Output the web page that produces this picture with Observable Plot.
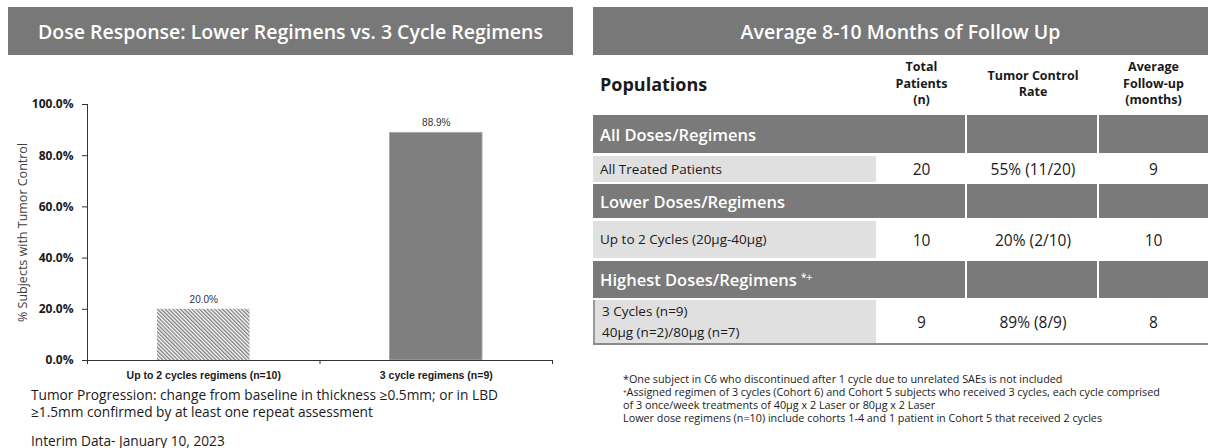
<!DOCTYPE html>
<html><head><meta charset="utf-8">
<script src="https://cdn.jsdelivr.net/npm/d3@7"></script>
<script src="https://cdn.jsdelivr.net/npm/@observablehq/plot@0.6"></script>
<style>
body{margin:0;background:#fff;width:1208px;height:448px;overflow:hidden;position:relative;font-family:"Open Sans",Lato,sans-serif;color:#1a1a1a;}
.abs{position:absolute;box-sizing:border-box;}
.titlebar{background:#787878;color:#fff;font-size:19.5px;font-weight:600;display:flex;align-items:center;justify-content:center;white-space:nowrap;}
.cell{display:flex;align-items:center;}
.sect{background:#7a7a7a;}
.light{background:#e0e0e0;}
.center{justify-content:center;text-align:center;}
.sup{font-size:10px;position:relative;top:-5px;line-height:0;}
</style></head><body>
<script>
// ---- Chart data ----
const categories = ["Up to 2 cycles regimens (n=10)", "3 cycle regimens (n=9)"];
const tumorControl = [0.20, 0.889];
const yTicks = [0, 0.2, 0.4, 0.6, 0.8, 1.0];
const yLabel = "% Subjects with Tumor Control";

// ---- Table data ----
const chartTitle = "Dose Response: Lower Regimens vs. 3 Cycle Regimens";
const tableTitle = "Average 8-10 Months of Follow Up";
const columnHeaders = ["Populations", "Total<br>Patients<br>(n)", "Tumor Control<br>Rate", "Average<br>Follow-up<br>(months)"];
const sections = ["All Doses/Regimens", "Lower Doses/Regimens", "Highest Doses/Regimens <span class='sup'>*+</span>"];
const populations = ["All Treated Patients", "Up to 2 Cycles (20µg-40µg)", "3 Cycles (n=9)<br>40µg (n=2)/80µg (n=7)"];
const totalPatients = [20, 10, 9];
const controlRate = ["55% (11/20)", "20% (2/10)", "89% (8/9)"];
const followUp = [9, 10, 8];
const captionLines = ["Tumor Progression: change from baseline in thickness ≥0.5mm; or in LBD", "≥1.5mm confirmed by at least one repeat assessment"];
const interim = "Interim Data- January 10, 2023";
const footnotes = [
  "*One subject in C6 who discontinued after 1 cycle due to unrelated SAEs is not included",
  "⁺Assigned regimen of 3 cycles (Cohort 6) and Cohort 5 subjects who received 3 cycles, each cycle comprised",
  "of 3 once/week treatments of 40µg x 2 Laser or 80µg x 2 Laser",
  "Lower dose regimens (n=10) include cohorts 1-4 and 1 patient in Cohort 5 that received 2 cycles"
];

function div(cls, x, y, w, h, html, style = "") {
  const d = document.createElement("div");
  d.className = "abs " + cls;
  d.style.cssText = `left:${x}px;top:${y}px;width:${w}px;height:${h}px;` + style;
  d.innerHTML = html;
  document.body.appendChild(d);
  return d;
}

// Title bars
div("titlebar", 8, 7, 565, 48, chartTitle);
div("titlebar", 593, 7, 615, 48, tableTitle);

// Chart
const data = categories.map((c, i) => ({i, cat: c, v: tumorControl[i]}));
const chart = Plot.plot({
  width: 580, height: 305,
  marginLeft: 87, marginRight: 28, marginTop: 24, marginBottom: 25,
  style: {fontFamily: "'Open Sans', sans-serif", background: "transparent", color: "#1a1a1a"},
  x: {domain: [0, categories.length]},
  y: {domain: [0, 1]},
  marks: [
    () => {
      const defs = d3.create("svg:defs");
      const p = defs.append("pattern").attr("id", "hatch").attr("patternUnits", "userSpaceOnUse")
        .attr("width", 2.7).attr("height", 10).attr("patternTransform", "rotate(-45)");
      p.append("rect").attr("width", 2.7).attr("height", 10).attr("fill", "#fff");
      p.append("line").attr("x1", 0.7).attr("x2", 0.7).attr("y1", 0).attr("y2", 10)
        .attr("stroke", "#737373").attr("stroke-width", 1.25);
      return defs.node();
    },
    Plot.rectY(data, {x1: d => d.i, x2: d => d.i + 1, y: "v", insetLeft: 70, insetRight: 70,
      fill: d => d.i === 0 ? "url(#hatch)" : "#7f7f7f", stroke: d => d.i === 0 ? "none" : "#a8a8a8", strokeWidth: 1}),
    Plot.text(data, {x: d => d.i + 0.5, y: "v", text: d => d3.format(".1%")(d.v), dy: -10,
      fontFamily: "Arial, 'Liberation Sans', sans-serif", fontSize: 10, fill: "#333"}),
    Plot.axisY({ticks: yTicks, tickFormat: d3.format(".1%"), tickSize: 5, tickPadding: 9,
      fontSize: 12, fontWeight: "bold", label: null, stroke: "#333"}),
    Plot.axisX({ticks: d3.range(categories.length + 1), tickFormat: () => "", tickSize: 4, stroke: "#333", label: null}),
    Plot.axisX({ticks: categories.map((c, i) => i + 0.5), tickFormat: (d) => categories[Math.floor(d)], tickSize: 0, tickPadding: 11,
      fontFamily: "Arial, 'Liberation Sans', sans-serif", fontSize: 10.5, fontWeight: "bold", label: null}),
    Plot.text([yLabel], {frameAnchor: "left", textAnchor: "middle", dx: -65, rotate: -90, text: d => d, fontSize: 12.5, fill: "#404040"}),
    Plot.ruleY([0], {stroke: "#333"}),
    Plot.frame({anchor: "left", stroke: "#333"})
  ]
});
chart.style.position = "absolute";
chart.style.left = "0px";
chart.style.top = "80px";
document.body.appendChild(chart);

// Captions left
captionLines.forEach((l, i) => div("", 31, 385 + i * 17, 560, 20, l, "font-size:13.7px;white-space:nowrap;"));
div("", 31, 433, 560, 15, interim, "font-size:13.7px;line-height:15px;white-space:nowrap;");

// Table header
div("cell", 600, 70, 270, 28, columnHeaders[0], "font-size:18px;font-weight:bold;");
const colX = [876, 967, 1099, 1208];
for (let c = 0; c < 3; c++) {
  div("cell center", colX[c], 57, colX[c + 1] - colX[c], 54, columnHeaders[c + 1], "font-size:12.5px;font-weight:bold;line-height:16.5px;");
}
// Table rows (layout)
const sectTop = [115, 184, 261], sectH = [38, 34, 37];
const rowTop = [156, 221, 300], rowH = [26, 37, 43];
sections.forEach((s, i) => {
  div("cell sect", 593, sectTop[i], 372, sectH[i], `<span style="padding-left:7px">${s}</span>`, "color:#fff;font-size:16.5px;font-weight:600;white-space:nowrap;");
  div("sect", 967, sectTop[i], 130, sectH[i], "");
  div("sect", 1099, sectTop[i], 109, sectH[i], "");
  div("cell light", 593, rowTop[i], 283, rowH[i], `<span style="padding-left:7px">${populations[i]}</span>`,
    "font-size:13.5px;line-height:21px;white-space:nowrap;" + (i === 2 ? "border-left:2px solid #999;" : ""));
  const vals = [totalPatients[i], controlRate[i], followUp[i]];
  vals.forEach((v, c) => div("cell center", colX[c], rowTop[i], colX[c + 1] - colX[c], rowH[i], String(v), "font-size:15.5px;white-space:nowrap;"));
});
div("", 593, 343, 615, 2, "", "background:#8a8a8a;");

// Footnotes
footnotes.forEach((f, i) => div("", 623, 372 + i * 13, 585, 13, f, "font-size:10.8px;line-height:13px;white-space:nowrap;"));
</script>
</body></html>
